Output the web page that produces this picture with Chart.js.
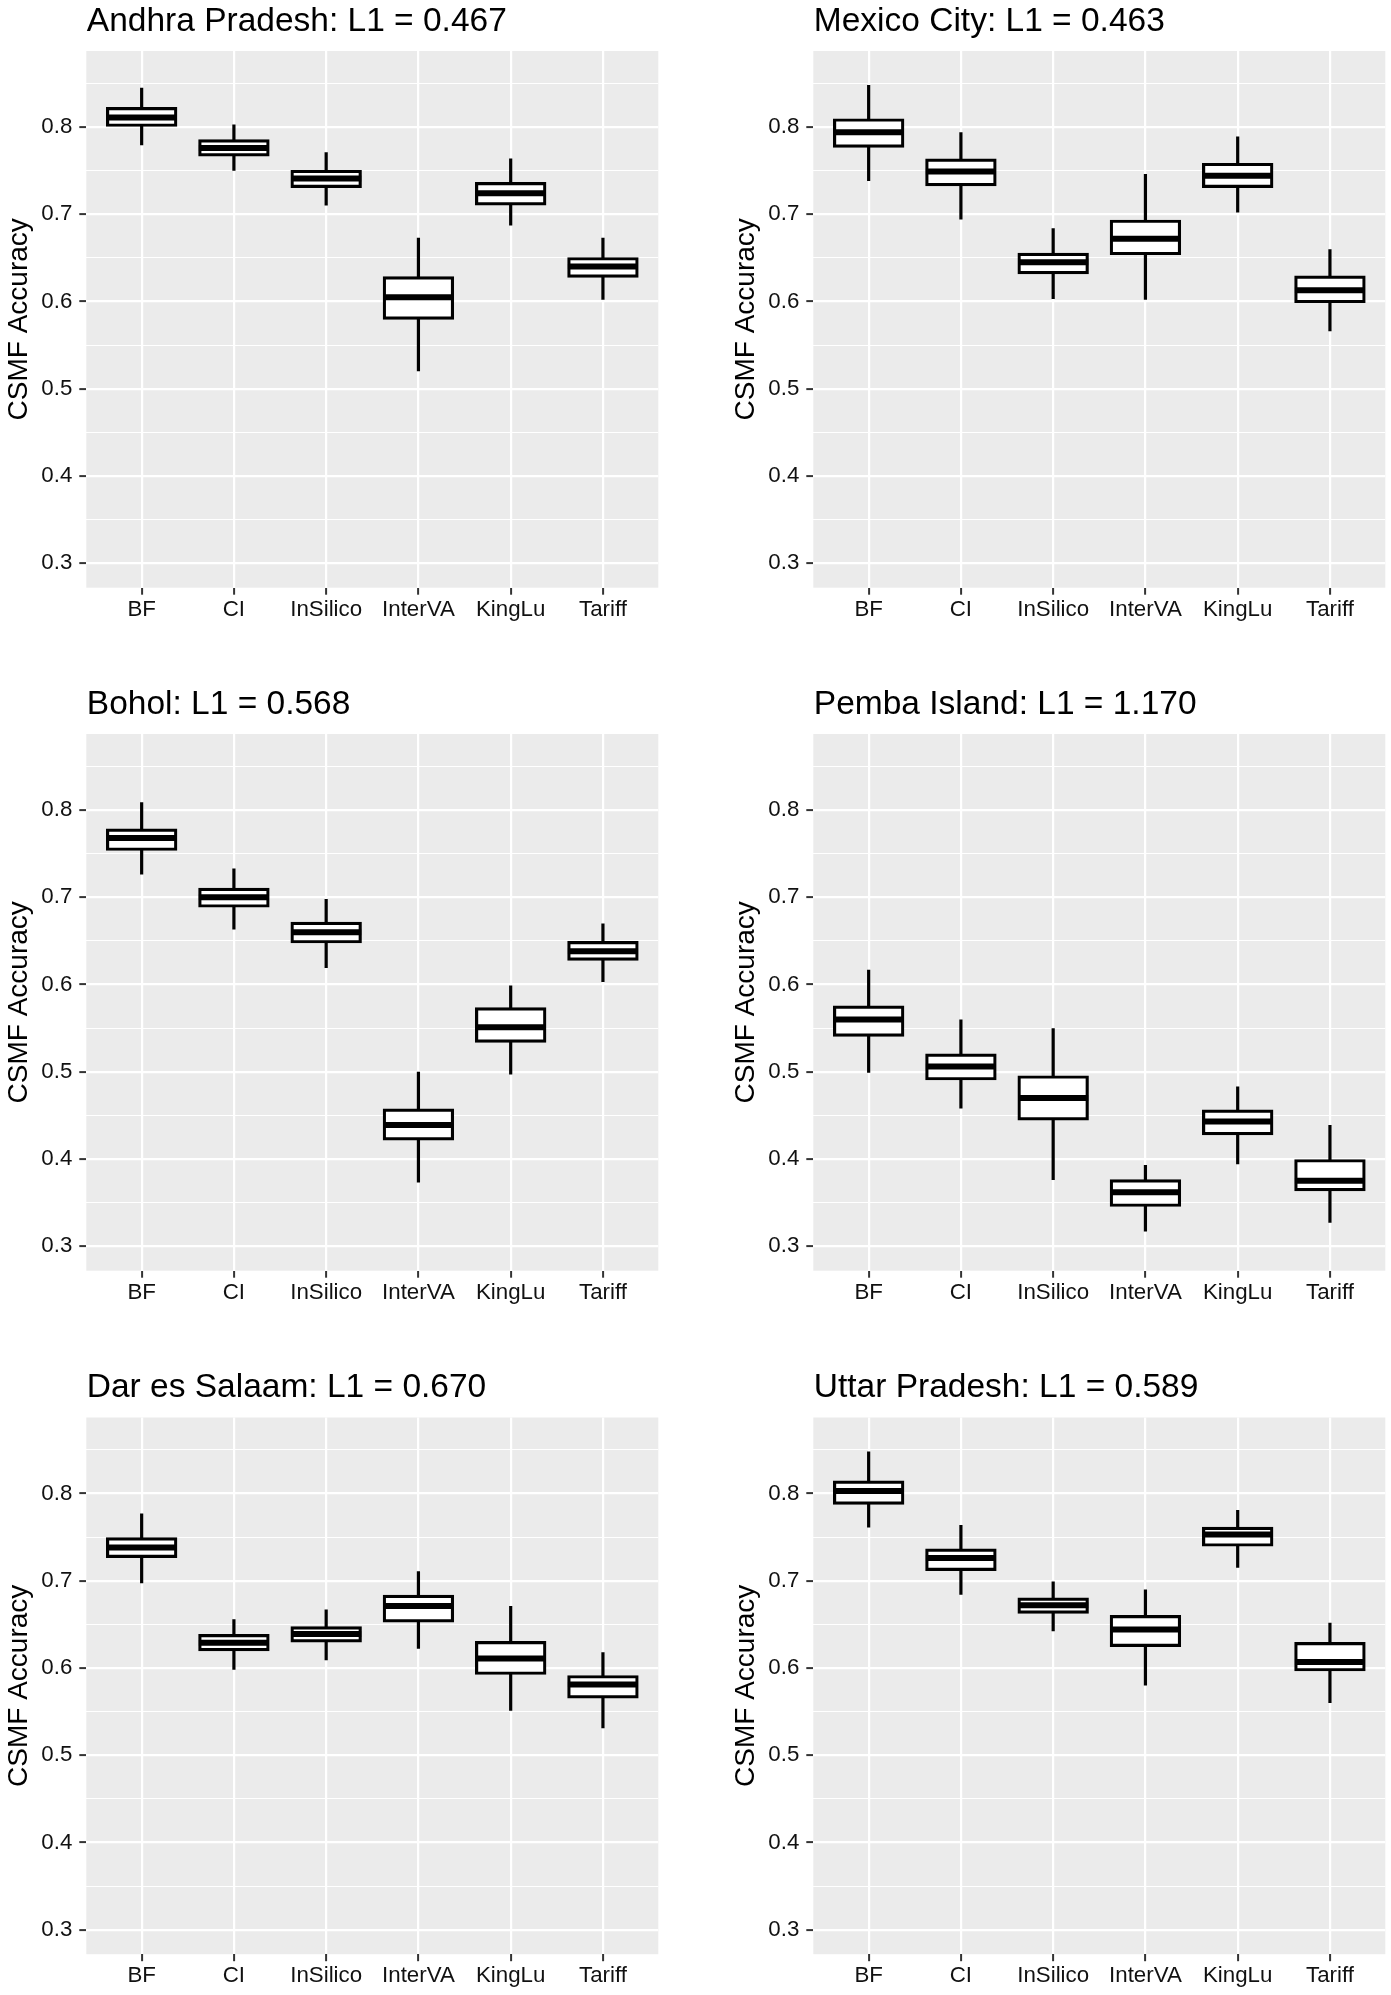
<!DOCTYPE html>
<html>
<head>
<meta charset="utf-8">
<script src="https://cdn.jsdelivr.net/npm/chart.js@4.4.1/dist/chart.umd.min.js"></script>
<style>
html, body { margin: 0; padding: 0; background: #ffffff; overflow: hidden; }
#wrap { position: relative; width: 1391px; height: 1995px; background: #ffffff; }
#wrap canvas { position: absolute; }
</style>
</head>
<body>
<div id="wrap"></div>
<script>
// ---------- data ----------
const categories = ['BF', 'CI', 'InSilico', 'InterVA', 'KingLu', 'Tariff'];
const yMajorTicks = [0.3, 0.4, 0.5, 0.6, 0.7, 0.8];
const yMinorTicks = [0.35, 0.45, 0.55, 0.65, 0.75, 0.85];
const yAxisTitle = 'CSMF Accuracy';
const panelTitles = [
  'Andhra Pradesh: L1 = 0.467',
  'Mexico City: L1 = 0.463',
  'Bohol: L1 = 0.568',
  'Pemba Island: L1 = 1.170',
  'Dar es Salaam: L1 = 0.670',
  'Uttar Pradesh: L1 = 0.589'
];

// Andhra Pradesh
const ap_lo  = [0.779, 0.750, 0.710, 0.520, 0.687, 0.602];
const ap_q1  = [0.802, 0.768, 0.732, 0.581, 0.712, 0.629];
const ap_med = [0.811, 0.776, 0.741, 0.605, 0.724, 0.640];
const ap_q3  = [0.821, 0.784, 0.749, 0.627, 0.735, 0.649];
const ap_hi  = [0.845, 0.803, 0.771, 0.673, 0.764, 0.673];
// Mexico City
const mc_lo  = [0.738, 0.694, 0.603, 0.602, 0.702, 0.566];
const mc_q1  = [0.778, 0.734, 0.633, 0.655, 0.732, 0.600];
const mc_med = [0.794, 0.749, 0.645, 0.672, 0.744, 0.613];
const mc_q3  = [0.808, 0.762, 0.654, 0.692, 0.757, 0.628];
const mc_hi  = [0.848, 0.794, 0.684, 0.746, 0.789, 0.660];
// Bohol
const bo_lo  = [0.726, 0.663, 0.619, 0.373, 0.497, 0.603];
const bo_q1  = [0.755, 0.690, 0.649, 0.423, 0.535, 0.629];
const bo_med = [0.768, 0.700, 0.660, 0.439, 0.551, 0.638];
const bo_q3  = [0.777, 0.709, 0.670, 0.456, 0.572, 0.648];
const bo_hi  = [0.809, 0.733, 0.698, 0.500, 0.599, 0.670];
// Pemba Island
const pe_lo  = [0.499, 0.458, 0.376, 0.317, 0.394, 0.327];
const pe_q1  = [0.542, 0.492, 0.446, 0.347, 0.429, 0.365];
const pe_med = [0.560, 0.506, 0.470, 0.362, 0.443, 0.375];
const pe_q3  = [0.574, 0.519, 0.494, 0.375, 0.455, 0.398];
const pe_hi  = [0.617, 0.560, 0.550, 0.393, 0.483, 0.439];
// Dar es Salaam
const ds_lo  = [0.697, 0.598, 0.609, 0.622, 0.551, 0.531];
const ds_q1  = [0.728, 0.621, 0.631, 0.654, 0.594, 0.567];
const ds_med = [0.738, 0.629, 0.639, 0.671, 0.611, 0.581];
const ds_q3  = [0.748, 0.637, 0.646, 0.682, 0.629, 0.590];
const ds_hi  = [0.777, 0.656, 0.667, 0.711, 0.671, 0.618];
// Uttar Pradesh
const up_lo  = [0.761, 0.684, 0.642, 0.580, 0.715, 0.560];
const up_q1  = [0.789, 0.713, 0.664, 0.626, 0.741, 0.598];
const up_med = [0.803, 0.726, 0.672, 0.644, 0.753, 0.607];
const up_q3  = [0.813, 0.735, 0.679, 0.659, 0.760, 0.628];
const up_hi  = [0.848, 0.764, 0.699, 0.690, 0.781, 0.652];

const panelStats = [
  [ap_lo, ap_q1, ap_med, ap_q3, ap_hi],
  [mc_lo, mc_q1, mc_med, mc_q3, mc_hi],
  [bo_lo, bo_q1, bo_med, bo_q3, bo_hi],
  [pe_lo, pe_q1, pe_med, pe_q3, pe_hi],
  [ds_lo, ds_q1, ds_med, ds_q3, ds_hi],
  [up_lo, up_q1, up_med, up_q3, up_hi]
];

// ---------- layout / style ----------
const FONT = '"Liberation Sans", Arial, Helvetica, sans-serif';
const CANVAS_W = 664, CANVAS_H = 628;
const Y_AXIS_W = 86.3, PLOT_W = 572, PLOT_H = 536.7, X_AXIS_H = 40;
const colLeft = [0, 727];
const rowTop = [0, 683, 1366];
const rowPadTop = [51, 51, 51.5];
const Y_MIN = 0.272, Y_MAX = 0.8871;
const X_MIN = -0.6, X_MAX = 5.6;
const BOX_LINE = 3.2;

const yAllTicks = yMajorTicks.concat(yMinorTicks).sort((a, b) => a - b);
const isMajor = v => yMajorTicks.some(m => Math.abs(m - v) < 1e-6);

const panelBgPlugin = {
  id: 'panelBg',
  beforeDraw(chart) {
    const { ctx, chartArea: a } = chart;
    ctx.save();
    ctx.fillStyle = '#EBEBEB';
    ctx.fillRect(a.left, a.top, a.right - a.left, a.bottom - a.top);
    ctx.restore();
  }
};

const panelTitlePlugin = {
  id: 'panelTitle',
  afterDraw(chart, args, opts) {
    const { ctx, chartArea: a } = chart;
    ctx.save();
    ctx.font = '33.5px ' + FONT;
    ctx.fillStyle = '#000';
    ctx.textAlign = 'left';
    ctx.textBaseline = 'alphabetic';
    ctx.fillText(opts.text, a.left + 0.5, a.top - 20.5);
    ctx.restore();
  }
};

const wrap = document.getElementById('wrap');

function makePanel(i) {
  const col = i % 2, row = Math.floor(i / 2);
  const cv = document.createElement('canvas');
  cv.width = CANVAS_W; cv.height = CANVAS_H;
  cv.style.left = colLeft[col] + 'px';
  cv.style.top = rowTop[row] + 'px';
  cv.style.width = CANVAS_W + 'px';
  cv.style.height = CANVAS_H + 'px';
  wrap.appendChild(cv);

  const [lo, q1, med, q3, hi] = panelStats[i];
  const padTop = rowPadTop[row];
  const padRight = CANVAS_W - Y_AXIS_W - PLOT_W;
  const padBottom = CANVAS_H - padTop - PLOT_H - X_AXIS_H;

  new Chart(cv, {
    type: 'bar',
    data: {
      datasets: [
        {
          type: 'scatter', order: 0,
          data: categories.map((c, k) => ({ x: k, y: med[k] })),
          pointStyle: 'line', pointRadius: 35, pointHoverRadius: 35,
          pointBorderWidth: 6, pointBorderColor: '#000', pointBackgroundColor: '#000',
          borderColor: '#000', backgroundColor: '#000'
        },
        {
          type: 'bar', order: 1,
          data: categories.map((c, k) => ({ x: k, y: [q1[k], q3[k]] })),
          backgroundColor: '#ffffff', borderColor: '#000', borderWidth: BOX_LINE,
          inflateAmount: BOX_LINE / 2,
          borderSkipped: false, grouped: false,
          categoryPercentage: 1, barPercentage: 0.739
        },
        {
          type: 'bar', order: 2,
          data: categories.map((c, k) => ({ x: k, y: [lo[k], hi[k]] })),
          backgroundColor: '#000', borderWidth: 0, inflateAmount: 0,
          barThickness: 3.2, grouped: false
        }
      ]
    },
    plugins: [panelBgPlugin, panelTitlePlugin],
    options: {
      responsive: false,
      animation: false,
      devicePixelRatio: 1,
      events: [],
      layout: { autoPadding: false, padding: { top: padTop, left: 0, right: padRight, bottom: padBottom } },
      plugins: {
        legend: { display: false },
        tooltip: { enabled: false },
        panelTitle: { text: panelTitles[i] }
      },
      scales: {
        x: {
          type: 'linear', min: X_MIN, max: X_MAX, bounds: 'data', offset: false,
          afterBuildTicks: s => { s.ticks = categories.map((c, k) => ({ value: k })); },
          afterFit: s => { s.height = X_AXIS_H; s.paddingLeft = 0; s.paddingRight = 0; s.paddingTop = 0; s.paddingBottom = 0; },
          grid: { offset: false, color: '#ffffff', lineWidth: 2.2, drawTicks: true,
                  tickLength: 7, tickColor: '#333333', tickWidth: 2 },
          border: { display: false },
          ticks: {
            autoSkip: false, maxRotation: 0, minRotation: 0, padding: 1.6,
            color: '#111', font: { family: FONT, size: 22.3 },
            callback: v => categories[Math.round(v)]
          }
        },
        y: {
          type: 'linear', min: Y_MIN, max: Y_MAX, bounds: 'data',
          afterBuildTicks: s => { s.ticks = yAllTicks.map(v => ({ value: v })); },
          afterFit: s => { s.width = Y_AXIS_W; s.paddingLeft = 0; s.paddingRight = 0; s.paddingTop = 0; s.paddingBottom = 0; },
          grid: {
            color: '#ffffff',
            lineWidth: c => (c.tick && isMajor(c.tick.value)) ? 2.2 : 1.1,
            drawTicks: true, tickLength: 7,
            tickColor: c => (c.tick && isMajor(c.tick.value)) ? '#333333' : 'rgba(0,0,0,0)',
            tickWidth: 2
          },
          border: { display: false },
          ticks: {
            autoSkip: false, padding: 7,
            color: '#111', font: { family: FONT, size: 22.3 },
            callback: v => isMajor(v) ? v.toFixed(1) : ''
          },
          title: {
            display: true, text: yAxisTitle, color: '#000',
            font: { family: FONT, size: 28 }, padding: { top: 2, bottom: 0 }
          }
        }
      }
    }
  });
}

for (let i = 0; i < 6; i++) makePanel(i);
</script>
</body>
</html>
